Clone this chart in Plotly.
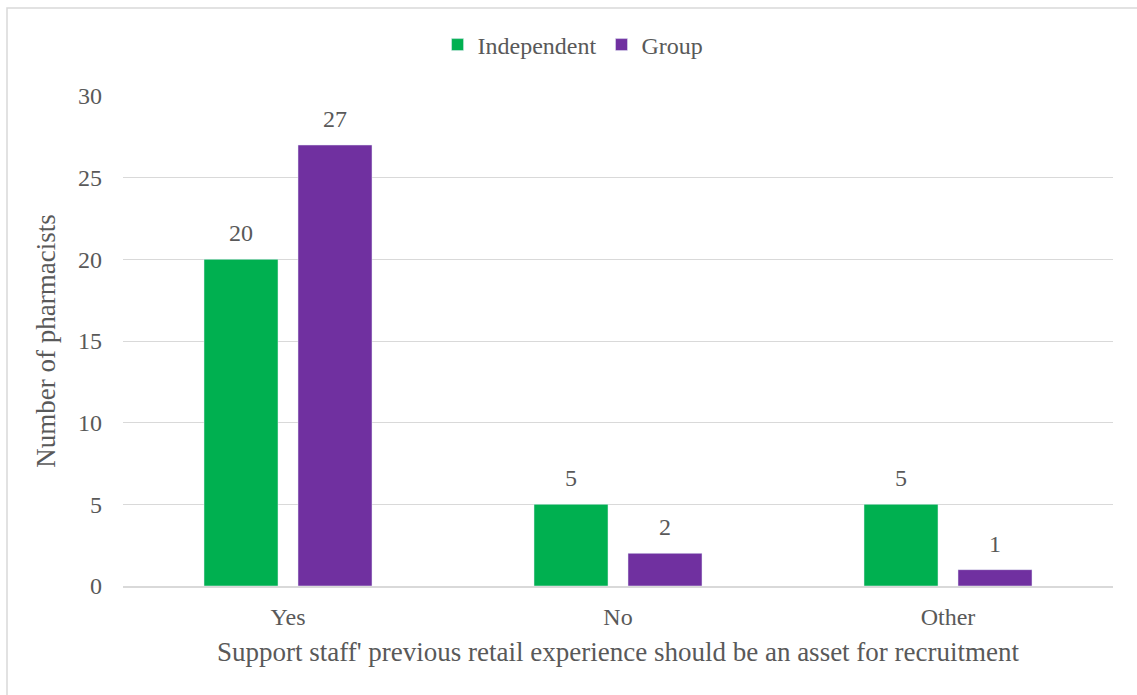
import plotly.graph_objects as go

categories = ["Yes", "No", "Other"]
independent = [20, 5, 5]
group = [27, 2, 1]
series_names = ["Independent", "Group"]
y_ticks = [0, 5, 10, 15, 20, 25, 30]

FONT = "Liberation Serif, Times New Roman, serif"
GRAY = "#595959"
COLORS = ["#00B050", "#7030A0"]

fig = go.Figure()
for name, vals, col in zip(series_names, [independent, group], COLORS):
    fig.add_trace(go.Bar(x=categories, y=vals, name=name, marker_color=col,
                         hoverinfo="x+y+name"))

annotations = []
for vals, shift in [(independent, -47), (group, 47)]:
    for c, v in zip(categories, vals):
        annotations.append(dict(x=c, y=v, text=str(v), showarrow=False,
                                xref="x", yref="y", xshift=shift, yshift=26,
                                yanchor="middle",
                                font=dict(size=24, color=GRAY, family=FONT)))

fig.update_layout(
    width=1137, height=695,
    margin=dict(l=123, r=24, t=96, b=109),
    paper_bgcolor="white", plot_bgcolor="white",
    font=dict(family=FONT, size=24, color=GRAY),
    barmode="group", bargap=0.4303, bargroupgap=0.2128,
    showlegend=True,
    legend=dict(orientation="h", x=0.504, xanchor="center", xref="container",
                y=1 - 45 / 695, yanchor="middle", yref="container",
                bgcolor="rgba(0,0,0,0)",
                font=dict(size=24, color=GRAY), itemwidth=30),
    annotations=annotations,
    xaxis=dict(title=dict(text="Support staff' previous retail experience should be an asset for recruitment",
                          font=dict(size=27, color=GRAY), standoff=14),
               showline=True, linecolor="#D9D9D9", linewidth=1.5,
               ticklabelstandoff=8,
               tickfont=dict(size=24, color=GRAY), ticks=""),
    yaxis=dict(title=dict(text="Number of pharmacists", font=dict(size=27, color=GRAY), standoff=14),
               range=[0, 30], tickvals=y_ticks, showgrid=True, gridcolor="#D9D9D9",
               gridwidth=1, zeroline=False, ticks="", ticklabelstandoff=20,
               tickfont=dict(size=24, color=GRAY)),
    shapes=[dict(type="rect", xref="paper", yref="paper",
                 x0=(7 - 123) / 990, x1=(1145 - 123) / 990,
                 y0=(586 - 705) / 490, y1=(586 - 8) / 490,
                 line=dict(color="#D9D9D9", width=1.5), fillcolor="rgba(0,0,0,0)", layer="below")],
)

fig.write_html("out.html", config={"displayModeBar": False},
               post_script="document.body.style.margin='0';")
